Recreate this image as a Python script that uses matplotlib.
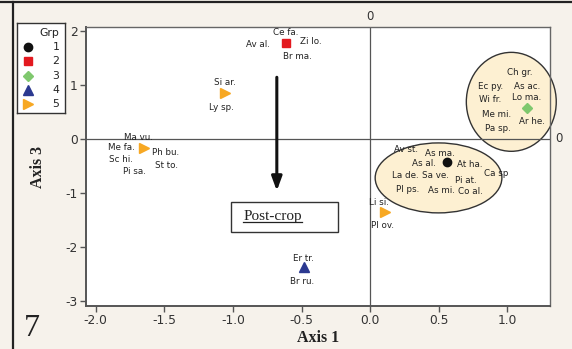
import matplotlib
matplotlib.use("Agg")
import matplotlib.pyplot as plt
from matplotlib.patches import Ellipse, Rectangle
from matplotlib.lines import Line2D
import matplotlib.transforms as mtransforms

plt.rcParams["axes.unicode_minus"] = False

# ---- data: one marker per species group, with the species codes it stands for
point_grp = [2, 5, 5, 4, 5, 3, 1]
point_x = [-0.61, -1.06, -1.65, -0.48, 0.11, 1.14, 0.56]
point_y = [1.78, 0.85, -0.17, -2.37, -1.36, 0.58, -0.43]
point_species = [
    ["Ce fa.", "Av al.", "Zi lo.", "Br ma."],
    ["Si ar.", "Ly sp."],
    ["Ma vu.", "Me fa.", "Ph bu.", "Sc hi.", "St to.", "Pi sa."],
    ["Er tr.", "Br ru."],
    ["Li si.", "Pl ov."],
    ["Ch gr.", "Ec py.", "As ac.", "Wi fr.", "Lo ma.", "Me mi.", "Ar he.", "Pa sp."],
    ["Av st.", "As ma.", "As al.", "At ha.", "La de.", "Sa ve.", "Pi at.", "Ca sp",
     "Pl ps.", "As mi.", "Co al."],
]
groups = [1, 2, 3, 4, 5]
x_ticks = [-2.0, -1.5, -1.0, -0.5, 0.0, 0.5, 1.0]
y_ticks = [-3, -2, -1, 0, 1, 2]

# ---- label placement around each marker (pixel offsets)
label_offsets = [
    [(-1, 10), (-28, -2), (24, 1), (11, -14)],
    [(0, 10), (-3, -15)],
    [(-5, 11), (-22, 1), (22, -4), (-23, -11), (23, -17), (-9, -23)],
    [(-1, 9), (-2, -14)],
    [(-6, 10), (-3, -13)],
    [(-7, 35), (-36, 21), (0, 21), (-37, 8), (0, 10), (-30, -7), (5, -14), (-29, -21)],
    [(-41, 13), (-7, 9), (-23, -1), (23, -2), (-42, -13), (-12, -13), (19, -18),
     (49, -11), (-39, -27), (-6, -28), (23, -29)],
]

grp_style = {
    1: dict(marker="o", color="#111111", ms=6),
    2: dict(marker="s", color="#e3191f", ms=6),
    3: dict(marker="D", color="#7fc86e", ms=5),
    4: dict(marker="^", color="#2b3990", ms=7),
    5: dict(marker=">", color="#f7a823", ms=7),
}

fig_bg = "#f6f2eb"
fig = plt.figure(figsize=(5.72, 3.49), dpi=100, facecolor=fig_bg)
ax = fig.add_axes([86 / 572, 1 - 306 / 349, 464 / 572, 279 / 349])
ax.set_facecolor("white")
ax.set_xlim(-2.07, 1.31)
ax.set_ylim(-3.09, 2.07)

# hull ellipses behind the points
ax.add_patch(Ellipse((1.028, 0.686), 0.655, 1.83, facecolor="#fdf0d2",
                     edgecolor="#333333", lw=1.0, zorder=1, clip_on=False))
ax.add_patch(Ellipse((0.498, -0.721), 0.923, 1.294, facecolor="#fdf0d2",
                     edgecolor="#333333", lw=1.0, zorder=1))

# reference lines
ax.axhline(0, color="#555555", lw=0.9, zorder=2)
ax.axvline(0, color="#555555", lw=0.9, zorder=2)
trans_top = mtransforms.blended_transform_factory(ax.transData, ax.transAxes)
ax.text(0, 1.015, "0", transform=trans_top, ha="center", va="bottom",
        fontsize=8.5, color="#333333")
trans_right = mtransforms.blended_transform_factory(ax.transAxes, ax.transData)
ax.text(1.012, 0, "0", transform=trans_right, ha="left", va="center",
        fontsize=8.5, color="#333333")

# points and species labels
for g, x, y, names, offs in zip(point_grp, point_x, point_y, point_species, label_offsets):
    st = grp_style[g]
    ax.plot([x], [y], linestyle="none", marker=st["marker"], color=st["color"],
            ms=st["ms"], mec=st["color"], zorder=4)
    for name, (dx, dy) in zip(names, offs):
        ax.annotate(name, (x, y), xytext=(dx, dy), textcoords="offset pixels",
                    ha="center", va="center", fontsize=6.3, color="#222222", zorder=5)

# arrow and boxed caption
ax.annotate("", xy=(-0.68, -0.96), xytext=(-0.68, 1.14),
            arrowprops=dict(arrowstyle="-|>,head_length=0.6,head_width=0.22",
                            lw=2.2, color="#111111", mutation_scale=14,
                            shrinkA=0, shrinkB=0), zorder=3)
ax.add_patch(Rectangle((-1.012, -1.726), 0.776, 0.561, facecolor="white",
                       edgecolor="#333333", lw=1.0, zorder=3))
cap = ax.text(-0.71, -1.50, "Post-crop", ha="center", va="baseline",
              family="Liberation Serif", fontsize=11, color="#222222", zorder=4)

# axes styling
for side in ["left", "bottom"]:
    ax.spines[side].set_color("#555555")
    ax.spines[side].set_linewidth(1.4)
for side in ["top", "right"]:
    ax.spines[side].set_color("#666666")
    ax.spines[side].set_linewidth(1.0)
ax.set_xticks(x_ticks)
ax.set_xticklabels([f"{v:.1f}" for v in x_ticks])
ax.set_yticks(y_ticks)
ax.set_yticklabels([str(v) for v in y_ticks])
ax.tick_params(direction="out", length=4, width=1, color="#555555",
               labelsize=8.8, labelcolor="#333333", pad=2)
ax.set_xlabel("Axis 1", family="Liberation Serif", fontweight="bold",
              fontsize=11.5, color="#222222", labelpad=2)
ax.set_ylabel("Axis 3", family="Liberation Serif", fontweight="bold",
              fontsize=11.5, color="#222222", labelpad=14)

# legend panel
lg = fig.add_axes([17 / 572, 1 - 113 / 349, 48 / 572, 90 / 349])
lg.set_xlim(0, 48)
lg.set_ylim(90, 0)
lg.set_xticks([])
lg.set_yticks([])
lg.set_facecolor("white")
for s in lg.spines.values():
    s.set_color("#333333")
    s.set_linewidth(1.0)
lg.text(32, 9.5, "Grp", ha="center", va="center", fontsize=7.8, color="#222222")
row_y = [23.7, 38, 53, 67, 81.3]
for g, ry in zip(groups, row_y):
    st = grp_style[g]
    lg.plot([11], [ry], linestyle="none", marker=st["marker"], color=st["color"],
            ms=st["ms"], mec=st["color"])
    lg.text(39, ry, str(g), ha="center", va="center", fontsize=7.8, color="#222222")

# panel number and frame
fig.text(31.5 / 572, 1 - 328 / 349, "7", family="Liberation Serif", fontsize=23,
         ha="center", va="center", color="#222222")
fig.add_artist(Line2D([0, 1], [1 - 2 / 349, 1 - 2 / 349], color="#222222", lw=1.6,
                      transform=fig.transFigure))
fig.add_artist(Line2D([12.5 / 572, 12.5 / 572], [0, 1 - 2 / 349], color="#222222",
                      lw=1.6, transform=fig.transFigure))

# underline the caption just below its baseline
fig.canvas.draw()
bb = cap.get_window_extent(renderer=fig.canvas.get_renderer())
base_px = ax.transData.transform((-0.71, -1.50))[1]
inv = fig.transFigure.inverted()
(x0, y0), (x1, _) = inv.transform([(bb.x0, base_px - 2), (bb.x1, base_px - 2)])
fig.add_artist(Line2D([x0, x1], [y0, y0], color="#222222", lw=0.9,
                      transform=fig.transFigure))

fig.savefig("out.png", dpi=100, facecolor=fig_bg)
